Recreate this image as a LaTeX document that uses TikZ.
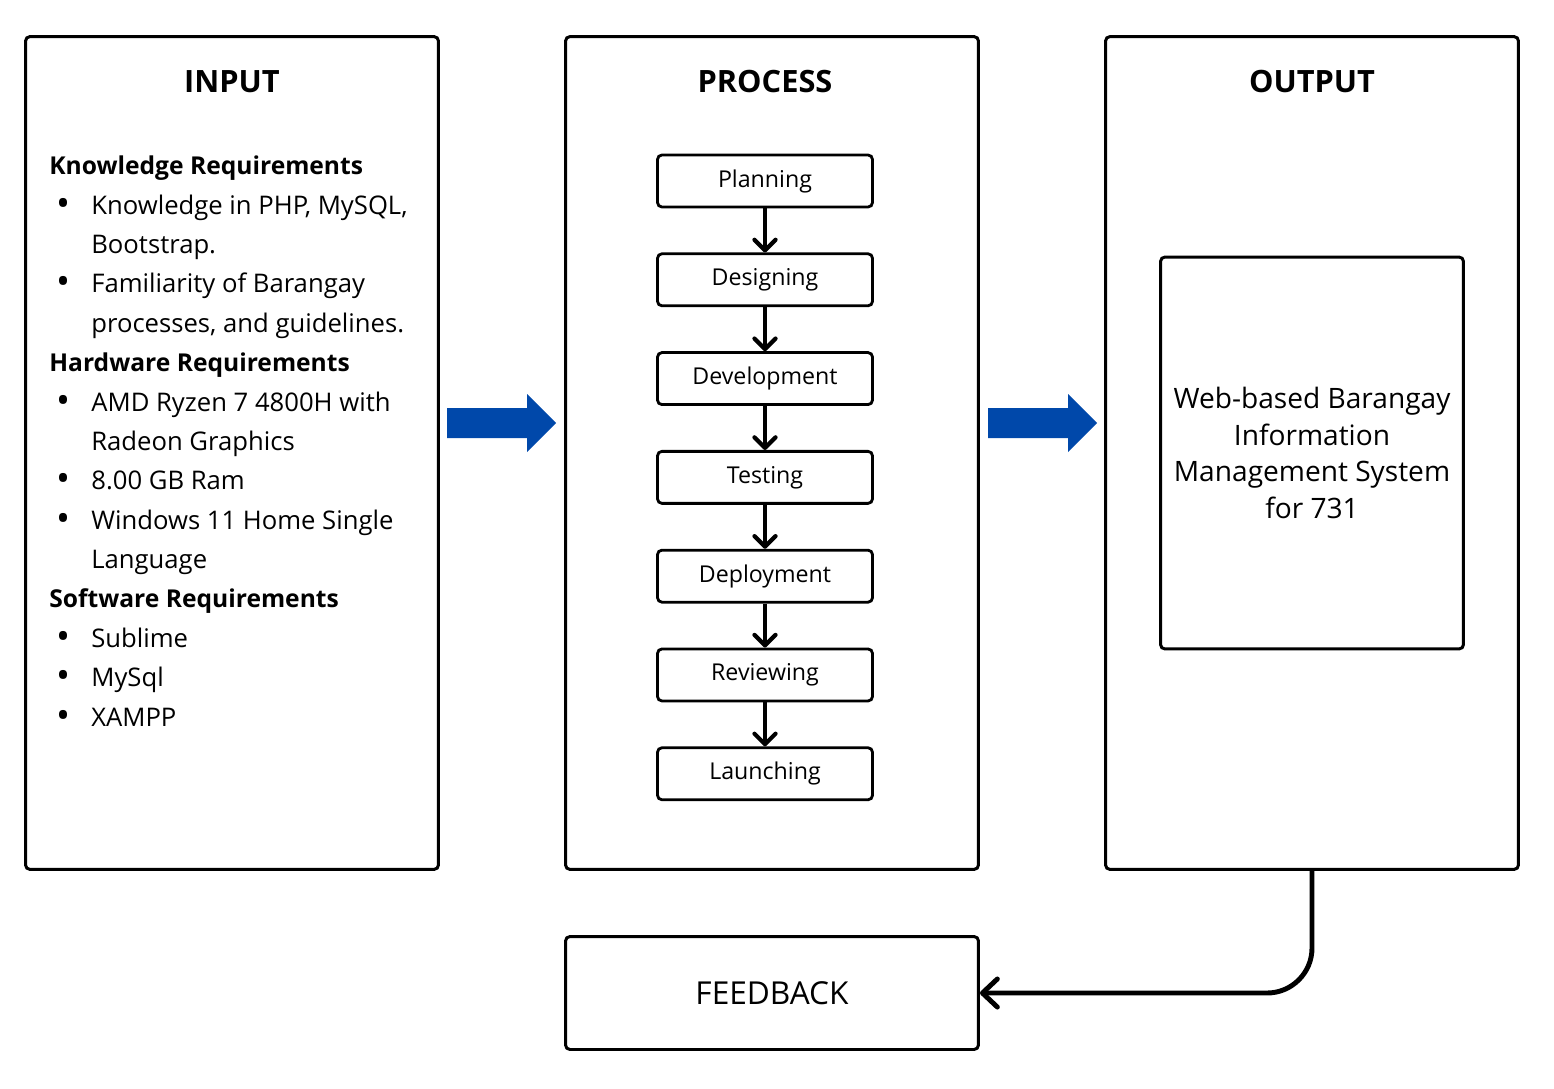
\documentclass[tikz,border=0pt]{standalone}
\usepackage{fontspec}
\setmainfont{Open Sans}
\usetikzlibrary{arrows.meta,positioning}
\definecolor{arrowblue}{RGB}{0,72,170}
\newcommand{\itm}{\llap{\raisebox{-0.12ex}{\scalebox{1.45}{\textbullet}}\hspace{12pt}}}

\begin{document}
\begin{tikzpicture}[x=0.02cm, y=-0.02cm,
  bigbox/.style={draw, line width=1.7pt, rounded corners=2.5pt, minimum width=8.26cm, minimum height=16.66cm},
  title/.style={font=\fontsize{17.5}{20}\selectfont\bfseries},
  head/.style={anchor=west, font=\fontsize{14}{16}\selectfont\bfseries, text height=1.5ex, text depth=.25ex, inner sep=0pt},
  item/.style={anchor=west, font=\fontsize{14.6}{17}\selectfont, text height=1.5ex, text depth=.25ex, inner sep=0pt},
  stepbox/.style={draw, line width=1.6pt, rounded corners=2.5pt, minimum width=4.3cm, minimum height=1.04cm, font=\fontsize{13.2}{15}\selectfont},
  steparrow/.style={line width=2.4pt, -{Straight Barb[length=6pt, width=12pt, line cap=round, line join=round]}},
  fbarrow/.style={line width=2.8pt, rounded corners=0.9cm, -{Straight Barb[length=8.5pt, width=16pt, line cap=round, line join=round]}},
  node distance=0.88cm]
\useasboundingbox (0,0) rectangle (1554,1088);

% Three main columns
\node[bigbox] (input) at (232,453) {};
\node[bigbox] (process) at (772,453) {};
\node[bigbox] (output) at (1312,453) {};
\node[title] (inputtitle) at (232,82) {INPUT};
\node[title] (processtitle) at (765,82) {PROCESS};
\node[title] (outputtitle) at (1312,82) {OUTPUT};

% Input requirements
\node[head] (knowhead) at (49,169) {Knowledge Requirements};
\node[item] (know1) at (91,209) {\itm Knowledge in PHP, MySQL,};
\node[item] (know1b) at (91,248) {Bootstrap.};
\node[item] (know2) at (91,287) {\itm Familiarity of Barangay};
\node[item] (know2b) at (91,327) {processes, and guidelines.};
\node[head] (hardhead) at (49,366) {Hardware Requirements};
\node[item] (hard1) at (91,406) {\itm AMD Ryzen 7 4800H with};
\node[item] (hard1b) at (91,445) {Radeon Graphics};
\node[item] (hard2) at (91,484) {\itm 8.00 GB Ram};
\node[item] (hard3) at (91,524) {\itm Windows 11 Home Single};
\node[item] (hard3b) at (91,563) {Language};
\node[head] (softhead) at (49,602) {Software Requirements};
\node[item] (soft1) at (91,642) {\itm Sublime};
\node[item] (soft2) at (91,681) {\itm MySql};
\node[item] (soft3) at (91,721) {\itm XAMPP};

% Process steps
\node[stepbox] (plan) at (765,181) {Planning};
\node[stepbox, below=of plan] (design) {Designing};
\node[stepbox, below=of design] (devel) {Development};
\node[stepbox, below=of devel] (test) {Testing};
\node[stepbox, below=of test] (deploy) {Deployment};
\node[stepbox, below=of deploy] (review) {Reviewing};
\node[stepbox, below=of review] (launch) {Launching};
\draw[steparrow] (plan) -- (design);
\draw[steparrow] (design) -- (devel);
\draw[steparrow] (devel) -- (test);
\draw[steparrow] (test) -- (deploy);
\draw[steparrow] (deploy) -- (review);
\draw[steparrow] (review) -- (launch);

% Output
\node[draw, line width=1.7pt, rounded corners=2.5pt, minimum width=6.06cm, minimum height=7.84cm,
  align=center, font=\fontsize{16}{21}\selectfont] (result) at (1312,453)
  {Web-based Barangay\\Information\\Management System\\for 731};

% Block arrows between columns
\fill[arrowblue] (447,408) -- (527,408) -- (527,394) -- (556,423) -- (527,452) -- (527,438) -- (447,438) -- cycle;
\fill[arrowblue] (988,408) -- (1068,408) -- (1068,394) -- (1097,423) -- (1068,452) -- (1068,438) -- (988,438) -- cycle;

% Feedback loop
\node[draw, line width=1.7pt, rounded corners=2.5pt, minimum width=8.26cm, minimum height=2.26cm,
  font=\fontsize{18}{21}\selectfont] (feedback) at (772,993) {FEEDBACK};
\draw[fbarrow] (output.south) |- (feedback.east);
\end{tikzpicture}
\end{document}
